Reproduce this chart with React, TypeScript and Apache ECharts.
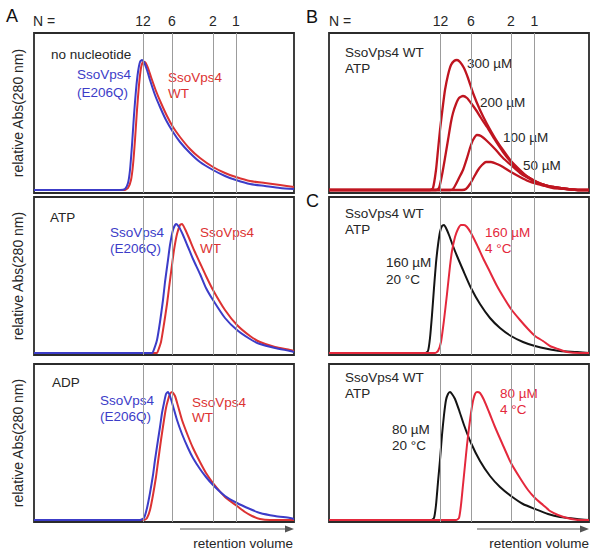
import React, { useEffect, useRef } from "react";
import * as echarts from "echarts";

// retention volume (a.u.) vs relative Abs(280 nm)
const nLabels = ["12", "6", "2", "1"];
const markersLeft = [10.9, 13.8, 17.9, 20.2];
const markersRight = [11.15, 14.2, 18.2, 20.55];

const noNucE206Q = [[0,0],[8.6,0],[9.1,0.01],[9.4,0.07],[9.6,0.2],[9.8,0.45],[10.0,0.75],[10.2,1.0],[10.4,1.18],[10.6,1.28],[10.8,1.3],[11.0,1.28],[11.3,1.2],[11.6,1.1],[12.1,0.95],[12.6,0.83],[13.2,0.7],[13.9,0.58],[14.6,0.48],[15.6,0.37],[16.6,0.28],[17.9,0.2],[19.1,0.14],[20.2,0.1],[21.6,0.06],[23.1,0.04],[24.6,0.02],[26,0.01]];
const noNucWT = [[0,0],[9.0,0],[9.4,0.02],[9.7,0.1],[9.9,0.25],[10.1,0.5],[10.3,0.8],[10.5,1.05],[10.7,1.22],[10.9,1.28],[11.1,1.28],[11.4,1.22],[11.7,1.13],[12.2,0.99],[12.7,0.87],[13.3,0.74],[13.9,0.63],[14.6,0.53],[15.6,0.41],[16.6,0.32],[17.9,0.23],[19.1,0.17],[20.2,0.13],[21.6,0.09],[23.1,0.07],[24.6,0.05],[26,0.03]];

const atpE206Q = [[0,0],[11.8,0],[11.9,0.01],[12.3,0.13],[12.6,0.31],[12.9,0.53],[13.1,0.71],[13.4,0.93],[13.6,1.08],[13.9,1.23],[14.2,1.29],[14.5,1.26],[14.9,1.18],[15.4,1.06],[15.9,0.94],[16.6,0.79],[17.2,0.65],[17.9,0.53],[19.1,0.35],[20.3,0.23],[21.6,0.14],[22.6,0.09],[24.1,0.05],[25.6,0.02],[26,0.01]];
const atpWT = [[0,0],[12.3,0],[12.4,0.02],[12.7,0.11],[13.0,0.29],[13.3,0.49],[13.5,0.65],[13.8,0.88],[14.0,1.03],[14.3,1.19],[14.6,1.28],[14.8,1.29],[15.1,1.24],[15.5,1.15],[16.0,1.03],[16.6,0.9],[17.2,0.77],[17.9,0.63],[19.1,0.43],[20.3,0.28],[21.6,0.17],[22.6,0.11],[24.1,0.06],[25.6,0.03],[26,0.02]];

const adpE206Q = [[0,0],[10.6,0],[11.0,0.02],[11.3,0.12],[11.6,0.27],[11.9,0.45],[12.1,0.6],[12.4,0.8],[12.6,0.93],[12.8,1.07],[13.0,1.17],[13.2,1.26],[13.4,1.28],[13.6,1.24],[13.9,1.14],[14.3,1.0],[14.8,0.86],[15.4,0.72],[15.9,0.62],[16.6,0.51],[17.2,0.43],[17.9,0.35],[19.1,0.24],[20.3,0.17],[21.6,0.11],[22.6,0.07],[24.1,0.04],[25.6,0.02],[26,0.01]];
const adpWT = [[0,0],[11.0,0],[11.3,0.02],[11.6,0.1],[11.9,0.25],[12.2,0.43],[12.4,0.58],[12.7,0.8],[13.0,1.0],[13.2,1.12],[13.4,1.2],[13.6,1.26],[13.8,1.28],[14.1,1.24],[14.4,1.14],[14.8,1.0],[15.4,0.84],[15.9,0.72],[16.6,0.58],[17.2,0.47],[17.9,0.37],[19.1,0.23],[20.3,0.14],[21.1,0.08],[21.8,0.04],[22.6,0.01],[23.6,0],[26,0]];

const wt300 = [[0,0],[10.1,0],[10.4,0.02],[10.7,0.2],[10.9,0.4],[11.1,0.6],[11.4,0.85],[11.6,1.0],[11.9,1.15],[12.2,1.25],[12.5,1.29],[12.8,1.3],[13.1,1.28],[13.5,1.22],[13.9,1.12],[14.4,0.97],[15.1,0.8],[15.8,0.66],[16.6,0.52],[17.4,0.4],[18.2,0.29],[19.1,0.2],[19.9,0.13],[20.8,0.08],[21.6,0.05],[22.4,0.03],[23.8,0.01],[25.1,0],[26,0]];
const wt200 = [[0,0],[10.7,0],[11.0,0.02],[11.3,0.15],[11.6,0.32],[11.9,0.5],[12.2,0.68],[12.4,0.77],[12.7,0.86],[13.0,0.92],[13.4,0.94],[13.8,0.92],[14.2,0.87],[14.7,0.8],[15.2,0.72],[15.8,0.63],[16.6,0.5],[17.4,0.38],[18.2,0.28],[19.1,0.19],[19.9,0.13],[20.8,0.08],[21.6,0.05],[22.4,0.03],[23.8,0.01],[25.1,0],[26,0]];
const wt100 = [[0,0],[12.1,0],[12.4,0.01],[12.7,0.06],[13.0,0.12],[13.4,0.2],[13.8,0.32],[14.1,0.42],[14.4,0.5],[14.8,0.55],[15.2,0.54],[15.8,0.49],[16.6,0.41],[17.4,0.32],[18.2,0.25],[19.1,0.17],[19.9,0.12],[20.8,0.07],[21.6,0.05],[22.4,0.03],[23.8,0.01],[25.1,0],[26,0]];
const wt50 = [[0,0],[13.3,0],[13.7,0.01],[14.1,0.06],[14.5,0.13],[14.9,0.2],[15.3,0.25],[15.7,0.28],[16.2,0.28],[16.8,0.26],[17.4,0.23],[18.2,0.18],[19.1,0.13],[19.9,0.09],[20.8,0.06],[21.6,0.04],[22.4,0.02],[23.8,0.01],[25.1,0],[26,0]];

const c160at20 = [[0,0],[9.6,0],[9.9,0.02],[10.1,0.15],[10.3,0.38],[10.5,0.65],[10.7,0.9],[10.9,1.08],[11.1,1.21],[11.3,1.27],[11.5,1.28],[11.7,1.25],[12.0,1.18],[12.4,1.07],[12.8,0.97],[13.4,0.83],[14.2,0.65],[15.1,0.49],[16.1,0.35],[17.1,0.25],[18.2,0.17],[19.4,0.11],[20.6,0.07],[21.9,0.04],[23.1,0.02],[24.8,0.01],[26,0]];
const c160at4 = [[0,0],[10.6,0],[10.9,0.02],[11.2,0.11],[11.5,0.33],[11.8,0.59],[12.1,0.87],[12.3,1.02],[12.6,1.16],[12.9,1.24],[13.2,1.28],[13.5,1.28],[13.8,1.26],[14.2,1.2],[14.8,1.08],[15.4,0.95],[16.1,0.81],[16.8,0.67],[17.5,0.55],[18.2,0.44],[19.1,0.33],[19.9,0.24],[20.6,0.17],[21.4,0.12],[22.1,0.07],[22.9,0.04],[23.8,0.01],[25.1,0],[26,0]];

const c80at20 = [[0,0],[10.2,0],[10.5,0.02],[10.7,0.15],[10.9,0.38],[11.1,0.6],[11.3,0.85],[11.5,1.05],[11.7,1.2],[11.9,1.26],[12.1,1.28],[12.3,1.26],[12.6,1.21],[13.0,1.1],[13.5,0.95],[14.2,0.77],[15.1,0.59],[16.1,0.44],[17.1,0.33],[18.2,0.24],[19.4,0.16],[20.6,0.11],[21.9,0.06],[23.1,0.03],[24.8,0.01],[26,0]];
const c80at4 = [[0,0],[12.7,0],[13.0,0.02],[13.2,0.15],[13.4,0.35],[13.6,0.55],[13.8,0.75],[14.0,0.92],[14.2,1.07],[14.4,1.19],[14.6,1.26],[14.8,1.28],[15.1,1.27],[15.5,1.2],[16.0,1.08],[16.6,0.93],[17.3,0.77],[18.2,0.57],[19.1,0.42],[19.9,0.3],[20.6,0.22],[21.4,0.15],[22.1,0.09],[22.9,0.05],[23.8,0.02],[25.1,0],[26,0]];

const FONT = "Arial, 'Liberation Sans', Helvetica, sans-serif";
const BLUE = "#3c3cc8";
const RED = "#dc3232";
const DARKRED = "#bf1520";
const CRED = "#e4283c";
const BLACK = "#141414";
const TXT = "#262626";

export default function App() {
  const ref = useRef<HTMLDivElement>(null);
  useEffect(() => {
    if (!ref.current) return;
    const chart = echarts.init(ref.current, undefined, { renderer: "svg" });

    const grids = [
      { left: 34, top: 33, width: 260, height: 160 },
      { left: 34, top: 197, width: 260, height: 158 },
      { left: 34, top: 364, width: 260, height: 158 },
      { left: 329, top: 33, width: 260, height: 160 },
      { left: 329, top: 197, width: 260, height: 158 },
      { left: 329, top: 364, width: 260, height: 158 },
    ];
    const yRanges = [
      [-0.03, 1.57], [-0.02, 1.56], [-0.02, 1.56],
      [-0.03, 1.57], [-0.02, 1.56], [-0.02, 1.56],
    ];

    const xAxis = grids.map((_, i) => ({
      type: "value", gridIndex: i, min: 0, max: 26,
      axisLine: { show: false }, axisTick: { show: false },
      axisLabel: { show: false }, splitLine: { show: false },
    }));
    const yAxis = grids.map((_, i) => ({
      type: "value", gridIndex: i, min: yRanges[i][0], max: yRanges[i][1],
      axisLine: { show: false }, axisTick: { show: false },
      axisLabel: { show: false }, splitLine: { show: false },
      name: i < 3 ? "relative Abs(280 nm)" : "",
      nameLocation: "middle", nameRotate: 90, nameGap: 9,
      nameTextStyle: { fontFamily: FONT, fontSize: 14, color: TXT },
    }));

    const markerSeries = grids.map((_, i) => {
      const marks = i < 3 ? markersLeft : markersRight;
      const top = i === 0 || i === 3;
      return {
        type: "line", xAxisIndex: i, yAxisIndex: i, data: [], z: 1,
        markLine: {
          silent: true, symbol: "none", animation: false,
          lineStyle: { color: "#9c9c9c", width: 1, type: "solid" },
          label: {
            show: top, position: "end", formatter: "{b}", distance: 5,
            fontFamily: FONT, fontSize: 14, color: TXT,
          },
          data: marks.map((v, k) => ({ xAxis: v, name: nLabels[k] })),
        },
      };
    });

    const curve = (idx: number, name: string, data: number[][], color: string, width = 2) => ({
      type: "line", name, xAxisIndex: idx, yAxisIndex: idx, data,
      showSymbol: false, smooth: 0.2, z: 3,
      lineStyle: { color, width, join: "round" }, itemStyle: { color },
    });

    const series = [
      ...markerSeries,
      curve(0, "WT", noNucWT, RED),
      curve(0, "E206Q", noNucE206Q, BLUE),
      curve(1, "WT", atpWT, RED),
      curve(1, "E206Q", atpE206Q, BLUE),
      curve(2, "WT", adpWT, RED),
      curve(2, "E206Q", adpE206Q, BLUE),
      curve(3, "50 µM", wt50, DARKRED, 2.3),
      curve(3, "100 µM", wt100, DARKRED, 2.3),
      curve(3, "200 µM", wt200, DARKRED, 2.3),
      curve(3, "300 µM", wt300, DARKRED, 2.3),
      curve(4, "160 µM 20 °C", c160at20, BLACK),
      curve(4, "160 µM 4 °C", c160at4, CRED),
      curve(5, "80 µM 20 °C", c80at20, BLACK),
      curve(5, "80 µM 4 °C", c80at4, CRED),
    ];

    const t = (text: string, x: number, y: number, fill = TXT, size = 13.5, align = "left") => ({
      type: "text", x, y,
      style: { text, fill, fontFamily: FONT, fontSize: size, textAlign: align, textVerticalAlign: "middle" },
    });

    const graphic = [
      t("A", 6, 16, "#111", 18),
      t("B", 306, 17, "#111", 18),
      t("C", 306, 201, "#111", 18),
      t("N =", 33, 21, TXT, 14),
      t("N =", 329, 21, TXT, 14),
      t("no nucleotide", 51, 54),
      t("SsoVps4", 77, 74, BLUE),
      t("(E206Q)", 77, 92, BLUE),
      t("SsoVps4", 168, 77, RED),
      t("WT", 168, 93, RED),
      t("ATP", 50, 217),
      t("SsoVps4", 110, 232, BLUE),
      t("(E206Q)", 110, 248, BLUE),
      t("SsoVps4", 200, 232, RED),
      t("WT", 200, 248, RED),
      t("ADP", 52, 382),
      t("SsoVps4", 100, 400, BLUE),
      t("(E206Q)", 100, 416, BLUE),
      t("SsoVps4", 192, 402, RED),
      t("WT", 192, 417, RED),
      t("SsoVps4 WT", 345, 52),
      t("ATP", 345, 68),
      t("300 µM", 467, 63),
      t("200 µM", 480, 102),
      t("100 µM", 503, 137),
      t("50 µM", 523, 165),
      t("SsoVps4 WT", 345, 213),
      t("ATP", 345, 229),
      t("160 µM", 485, 232, CRED),
      t("4 °C", 485, 248, CRED),
      t("160 µM", 386, 262),
      t("20 °C", 386, 279),
      t("SsoVps4 WT", 345, 377),
      t("ATP", 345, 393),
      t("80 µM", 500, 393, CRED),
      t("4 °C", 500, 409, CRED),
      t("80 µM", 392, 429),
      t("20 °C", 392, 445),
      { type: "line", shape: { x1: 180, y1: 529, x2: 287, y2: 529 }, style: { stroke: "#555", lineWidth: 1.2 } },
      { type: "polygon", shape: { points: [[294, 529], [285, 525.5], [285, 532.5]] }, style: { fill: "#555" } },
      { type: "line", shape: { x1: 477, y1: 529, x2: 582, y2: 529 }, style: { stroke: "#555", lineWidth: 1.2 } },
      { type: "polygon", shape: { points: [[589, 529], [580, 525.5], [580, 532.5]] }, style: { fill: "#555" } },
      t("retention volume", 293, 543, TXT, 13.5, "right"),
      t("retention volume", 589, 543, TXT, 13.5, "right"),
    ];

    chart.setOption({
      animation: false,
      backgroundColor: "#ffffff",
      grid: grids.map((g) => ({ ...g, show: true, borderColor: "#2b2b2b", borderWidth: 1.8, backgroundColor: "transparent" })),
      xAxis, yAxis, series, graphic,
    } as any);

    return () => chart.dispose();
  }, []);

  return (
    <div
      ref={ref}
      style={{ position: "fixed", left: 0, top: 0, width: 602, height: 555, background: "#fff" }}
    />
  );
}
